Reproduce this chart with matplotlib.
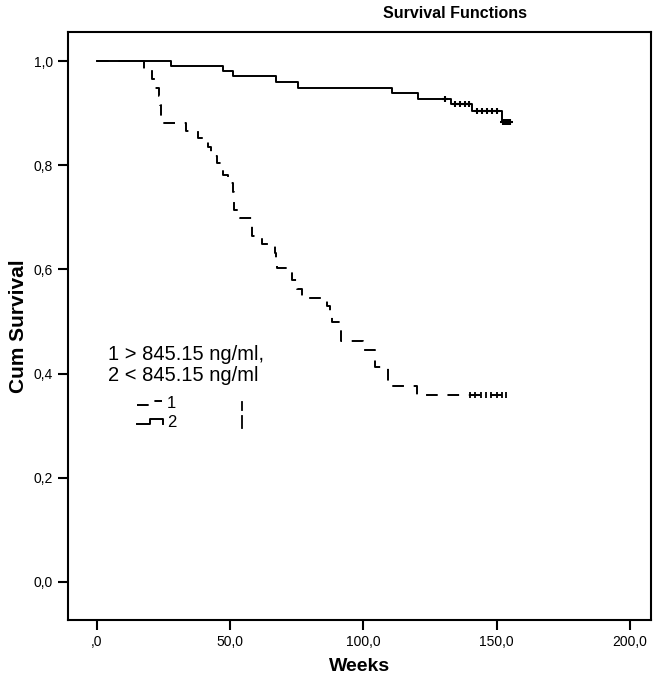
import matplotlib
matplotlib.use("Agg")
import matplotlib.pyplot as plt
import numpy as np

plt.rcParams["font.family"] = ["Liberation Sans", "DejaVu Sans"]

# group 1 (> 845.15 ng/ml): event times (weeks) and survival after each step
g1_times = [0, 17.8, 20.6, 21.8, 23.3, 23.7, 24.0, 24.2, 33.5, 38.0, 41.6,
            42.8, 45.0, 47.2, 49.0, 51.0, 51.3, 51.6, 53.5, 58.0, 58.3,
            62.0, 66.8, 67.2, 67.5, 73.0, 75.0, 77.0, 86.5, 87.5, 88.2,
            91.4, 91.7, 100.0, 104.3, 109.2, 120.0]
g1_surv = [1.0, 0.983, 0.966, 0.949, 0.932, 0.915, 0.898, 0.881, 0.866,
           0.852, 0.835, 0.818, 0.805, 0.781, 0.765, 0.748, 0.731, 0.715,
           0.698, 0.681, 0.664, 0.648, 0.631, 0.614, 0.602, 0.579, 0.563,
           0.546, 0.529, 0.512, 0.500, 0.481, 0.462, 0.446, 0.412, 0.377,
           0.358]
g1_end = 154.0
g1_censored = [140.0, 142.0, 144.0, 146.0, 148.0, 150.0, 152.0, 153.5]

# group 2 (< 845.15 ng/ml)
g2_times = [0, 27.6, 47.3, 51.2, 67.0, 75.3, 110.6, 120.6, 133.0, 140.6, 152.1]
g2_surv = [1.0, 0.991, 0.981, 0.971, 0.959, 0.949, 0.938, 0.927, 0.917,
           0.904, 0.883]
g2_end = 155.0
g2_censored = [130.6, 134.3, 136.2, 138.1, 139.7, 142.5, 144.3, 146.2, 148.1,
               150.0, 152.4, 153.0, 153.6, 154.2, 154.8]

x_ticks = [0, 50, 100, 150, 200]
x_labels = [",0", "50,0", "100,0", "150,0", "200,0"]
y_ticks = [0.0, 0.2, 0.4, 0.6, 0.8, 1.0]
y_labels = ["0,0", "0,2", "0,4", "0,6", "0,8", "1,0"]

legend_title = ["1 > 845.15 ng/ml,", "2 < 845.15 ng/ml"]
group_names = ["1", "2"]


def level_at(times, surv, t):
    idx = np.searchsorted(times, t, side="right") - 1
    return np.asarray(surv)[idx]


fig = plt.figure(figsize=(6.56, 6.77), dpi=100)
ax = fig.add_axes([68 / 656, 57 / 677, 583 / 656, 588 / 677])

lw = 1.4
dash = (0, (6, 5))
# group 1 dashed
t1 = list(g1_times) + [g1_end]
s1 = list(g1_surv) + [g1_surv[-1]]
ax.step(t1, s1, where="post", color="black", lw=lw, linestyle=dash)
ax.plot(g1_censored, level_at(g1_times, g1_surv, g1_censored), "|",
        color="black", ms=5, mew=1.3)

# group 2 solid
t2 = list(g2_times) + [g2_end]
s2 = list(g2_surv) + [g2_surv[-1]]
ax.step(t2, s2, where="post", color="black", lw=lw)
ax.plot(g2_censored, level_at(g2_times, g2_surv, g2_censored), "+",
        color="black", ms=4, mew=1.5)

ax.set_xlim(-10.88, 207.9)
ax.set_ylim(-0.073, 1.0558)
ax.set_xticks(x_ticks)
ax.set_xticklabels(x_labels)
ax.set_yticks(y_ticks)
ax.set_yticklabels(y_labels)
ax.tick_params(direction="out", length=7, width=1.5, labelsize=10, pad=4)
for sp in ax.spines.values():
    sp.set_linewidth(1.5)

ax.set_xlabel("Weeks", fontsize=14, fontweight="bold", labelpad=6)
ax.set_ylabel("Cum Survival", fontsize=15, fontweight="bold", labelpad=4)
fig.text(455 / 656, 1 - 13 / 677, "Survival Functions", ha="center",
         va="center", fontsize=11.5, fontweight="bold")

# legend, drawn SPSS-style in axes fractions
tr = ax.transAxes
ax.text(0.069, 0.452, legend_title[0], transform=tr, fontsize=14.5,
        va="center", ha="left")
ax.text(0.069, 0.415, legend_title[1], transform=tr, fontsize=14.5,
        va="center", ha="left")
ax.plot([0.118, 0.141, 0.141, 0.161], [0.365, 0.365, 0.373, 0.373],
        transform=tr, color="black", lw=lw, linestyle=dash)
ax.plot([0.118, 0.140, 0.140, 0.163, 0.163], [0.334, 0.334, 0.342, 0.342, 0.334],
        transform=tr, color="black", lw=lw)
ax.text(0.170, 0.368, group_names[0], transform=tr, fontsize=12,
        va="center", ha="left")
ax.text(0.170, 0.336, group_names[1], transform=tr, fontsize=12,
        va="center", ha="left")
ax.plot([0.298, 0.298], [0.357, 0.371], transform=tr, color="black", lw=1.3)
ax.plot([0.298, 0.298], [0.327, 0.347], transform=tr, color="black", lw=1.3)

fig.savefig("out.png", dpi=100)
